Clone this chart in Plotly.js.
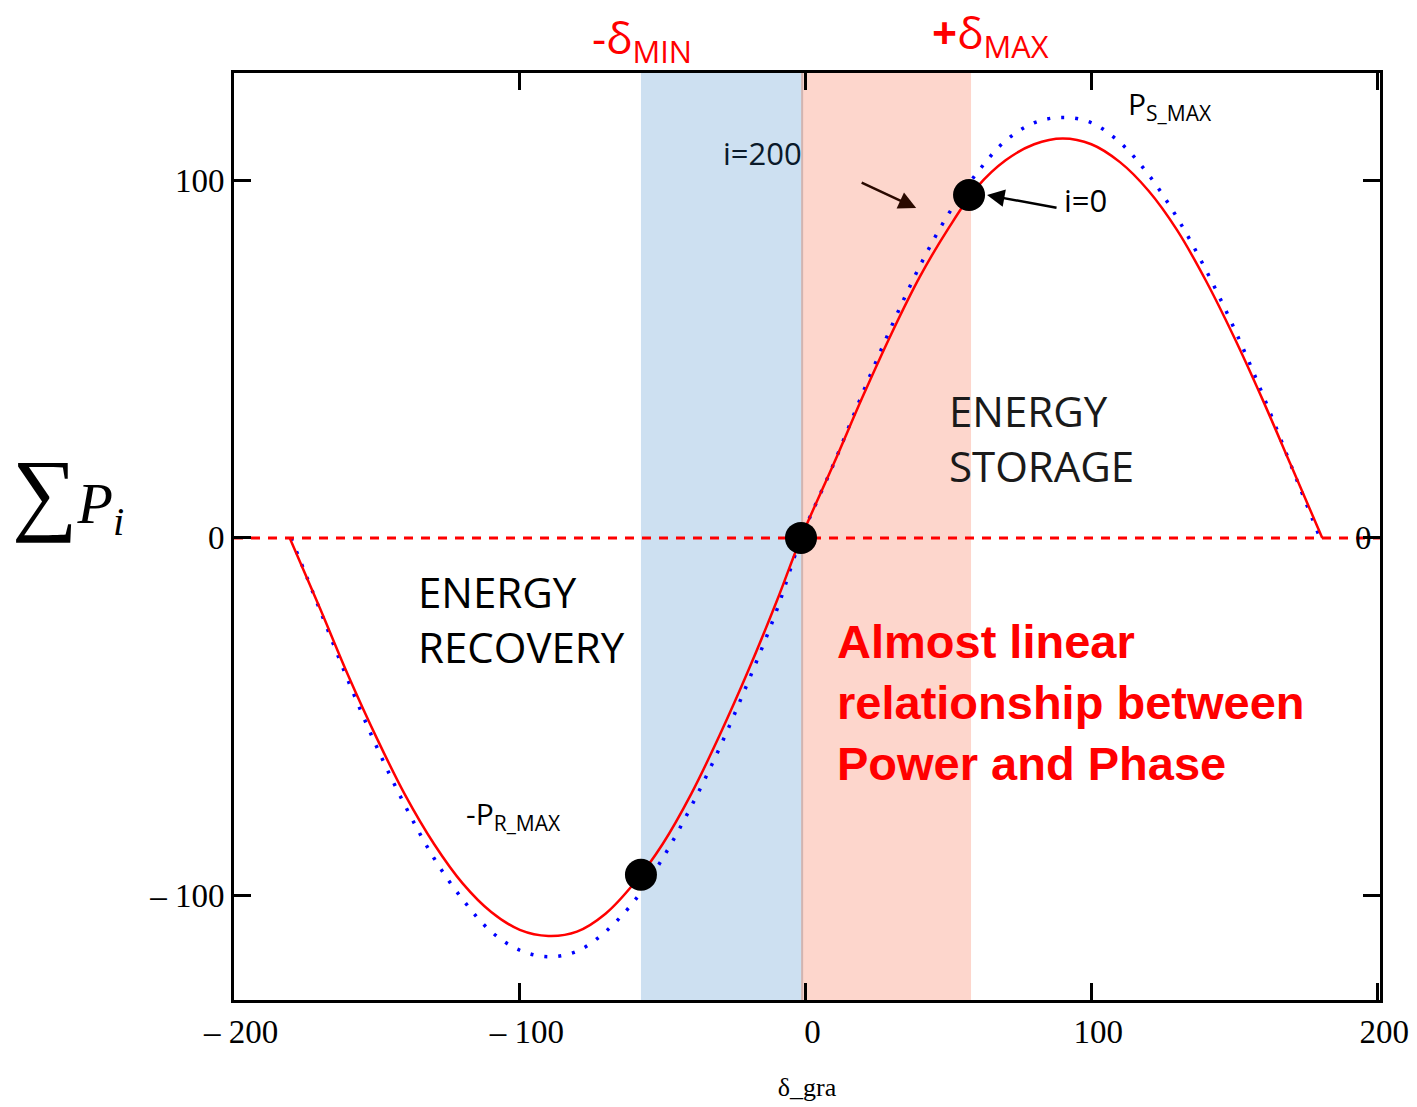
<!DOCTYPE html>
<html>
<head>
<meta charset="utf-8">
<script src="https://cdn.plot.ly/plotly-3.0.1.min.js"></script>
<style>html,body{margin:0;padding:0;background:#fff;}#chart{width:1417px;height:1107px;}</style>
</head>
<body>
<div id="chart"></div>
<script>
// Phase angle (degrees) sample points
const deltaRed = [-180.5,-170,-160,-150,-140,-130,-120,-110,-100,-90,-80,-70,-60,-50,-40,-30,-20,-10,-1.6,10,20,30,40,50,60,70,80,90,100,110,120,130,140,150,160,170,180.8];
const powerRed = [0,-19.5,-38.5,-56,-72,-85.5,-96.5,-104.5,-109.5,-111.2,-110,-105,-96.5,-85.5,-71.5,-55,-37,-17.5,0,21,39.5,57,73,86.5,98,105.5,110,111.6,110,105,97,86,72,56,38.5,20,0];
const deltaBlue = [-180,-170,-160,-150,-140,-130,-120,-110,-100,-90,-80,-70,-60,-50,-40,-30,-20,-10,-1.5,10,20,30,40,50,60,70,80,90,100,110,120,130,140,150,160,170,180];
const powerBlue = [0,-20,-40,-58.5,-75,-89.5,-101,-110,-115.2,-117,-115.5,-110,-101.5,-89.5,-75,-58.5,-40,-20,0,21,40.5,59,76,90.5,102,111,116,117.5,116,110.5,101.5,89.5,75,58.5,40,20,0];
const zeroX = [-200, 201];
const zeroY = [0, 0];
// marked operating points
const dotX = [-57.6, -1.6, 57.2];
const dotY = [-94.1, 0, 95.8];
// band limits
const deltaMin = -57.6, deltaZero = -1.2, deltaMax = 57.9;
const xTickVals = [-200,-100,0,100,200];
const xTickText = ['– 200','– 100','0','100','200'];
const yTickVals = [-100,0,100];
const yTickText = ['– 100','0','100'];

const traces = [
  {x: deltaBlue, y: powerBlue, mode:'lines', line:{color:'#0000ff', width:3.5, dash:'3px,11px', shape:'spline'}, hoverinfo:'skip'},
  {x: zeroX, y: zeroY, mode:'lines', line:{color:'#ff0000', width:3, dash:'9px,8px'}, hoverinfo:'skip'},
  {x: deltaRed, y: powerRed, mode:'lines', line:{color:'#ff0000', width:2.5, shape:'spline'}, hoverinfo:'skip'},
  {x: dotX, y: dotY, mode:'markers', marker:{color:'#000', size:32}, hoverinfo:'skip'}
];

const serif = 'Liberation Serif, Times New Roman, serif';
const sans = 'Open Sans, sans-serif';
const boldSans = 'Liberation Sans, Arial, sans-serif';

const layout = {
  width:1417, height:1107,
  margin:{l:234, r:37, t:73, b:107},
  paper_bgcolor:'#fff', plot_bgcolor:'#fff',
  showlegend:false,
  xaxis:{range:[-200,201], tickvals:xTickVals, ticktext:xTickText, ticks:'inside', ticklen:17, tickwidth:3, tickcolor:'#000',
    showline:true, linewidth:3, linecolor:'#000', mirror:'ticks', showgrid:false, zeroline:false,
    tickfont:{family:serif, size:33, color:'#000'}, ticklabelstandoff:0, ticklabelshift:7,
    title:{text:'δ_gra', font:{family:serif, size:26, color:'#000'}, standoff:30}},
  yaxis:{range:[-129.1,129.9], tickvals:yTickVals, ticktext:yTickText, ticks:'inside', ticklen:17, tickwidth:3, tickcolor:'#000',
    showline:true, linewidth:3, linecolor:'#000', mirror:'ticks', showgrid:false, zeroline:false,
    tickfont:{family:serif, size:33, color:'#000'}},
  shapes:[
    {type:'rect', xref:'x', yref:'paper', x0:deltaMin, x1:deltaZero, y0:0, y1:1, fillcolor:'#cde0f1', line:{width:0}, layer:'below'},
    {type:'rect', xref:'x', yref:'paper', x0:deltaZero, x1:deltaMax, y0:0, y1:1, fillcolor:'#fdd6cc', line:{width:0}, layer:'below'},
    {type:'line', xref:'x', yref:'paper', x0:deltaZero, x1:deltaZero, y0:0, y1:1, line:{color:'#d2b4b0', width:2}, layer:'below'}
  ],
  annotations:[
    {xref:'paper', yref:'paper', x:0.356, y:1.036, xanchor:'center', yanchor:'middle', text:'-δ<sub>MIN</sub>', showarrow:false, font:{family:sans, size:44, color:'#ff0000'}},
    {xref:'paper', yref:'paper', x:0.660, y:1.041, xanchor:'center', yanchor:'middle', text:'<b>+</b>δ<sub>MAX</sub>', showarrow:false, font:{family:sans, size:44, color:'#ff0000'}},
    {x:127.6, y:121, text:'P<sub>S_MAX</sub>', showarrow:false, font:{family:sans, size:30, color:'#000'}},
    {x:-102.3, y:-77.4, text:'-P<sub>R_MAX</sub>', showarrow:false, font:{family:sans, size:30, color:'#000'}},
    {x:-14.9, y:107.5, text:'i=200', showarrow:false, font:{family:sans, size:31, color:'#0a1a2a'}},
    {x:97.8, y:94.4, text:'i=0', showarrow:false, font:{family:sans, size:31, color:'#000'}},
    {x:49.5, y:27.9, xanchor:'left', align:'left', text:'ENERGY<br>STORAGE', showarrow:false, font:{family:sans, size:42, color:'#1a1a1a'}},
    {x:-136.3, y:-22.6, xanchor:'left', align:'left', text:'ENERGY<br>RECOVERY', showarrow:false, font:{family:sans, size:42, color:'#000'}},
    {x:10.3, y:-46.1, xanchor:'left', align:'left', text:'<b>Almost linear<br>relationship between<br>Power and Phase</b>', showarrow:false, font:{family:boldSans, size:47, color:'#ff0000'}},
    {x:195.1, y:0, text:'0', showarrow:false, font:{family:serif, size:33, color:'#000'}},
    {xref:'paper', yref:'paper', x:-0.145, y:0.547, xanchor:'center', yanchor:'middle', text:'<span style="font-size:92px">∑</span><i>P</i><sub><i>i</i></sub>', showarrow:false, font:{family:serif, size:58, color:'#000'}},
    {x:38.7, y:92.2, ax:-56, ay:-26, text:'', showarrow:true, arrowhead:2, arrowsize:1.4, arrowwidth:2.5, arrowcolor:'#2a0a00'},
    {x:63.5, y:95.8, ax:71, ay:13, text:'', showarrow:true, arrowhead:2, arrowsize:1.4, arrowwidth:2.5, arrowcolor:'#000'}
  ]
};

Plotly.newPlot('chart', traces, layout, {staticPlot:true, displayModeBar:false});
</script>
</body>
</html>
